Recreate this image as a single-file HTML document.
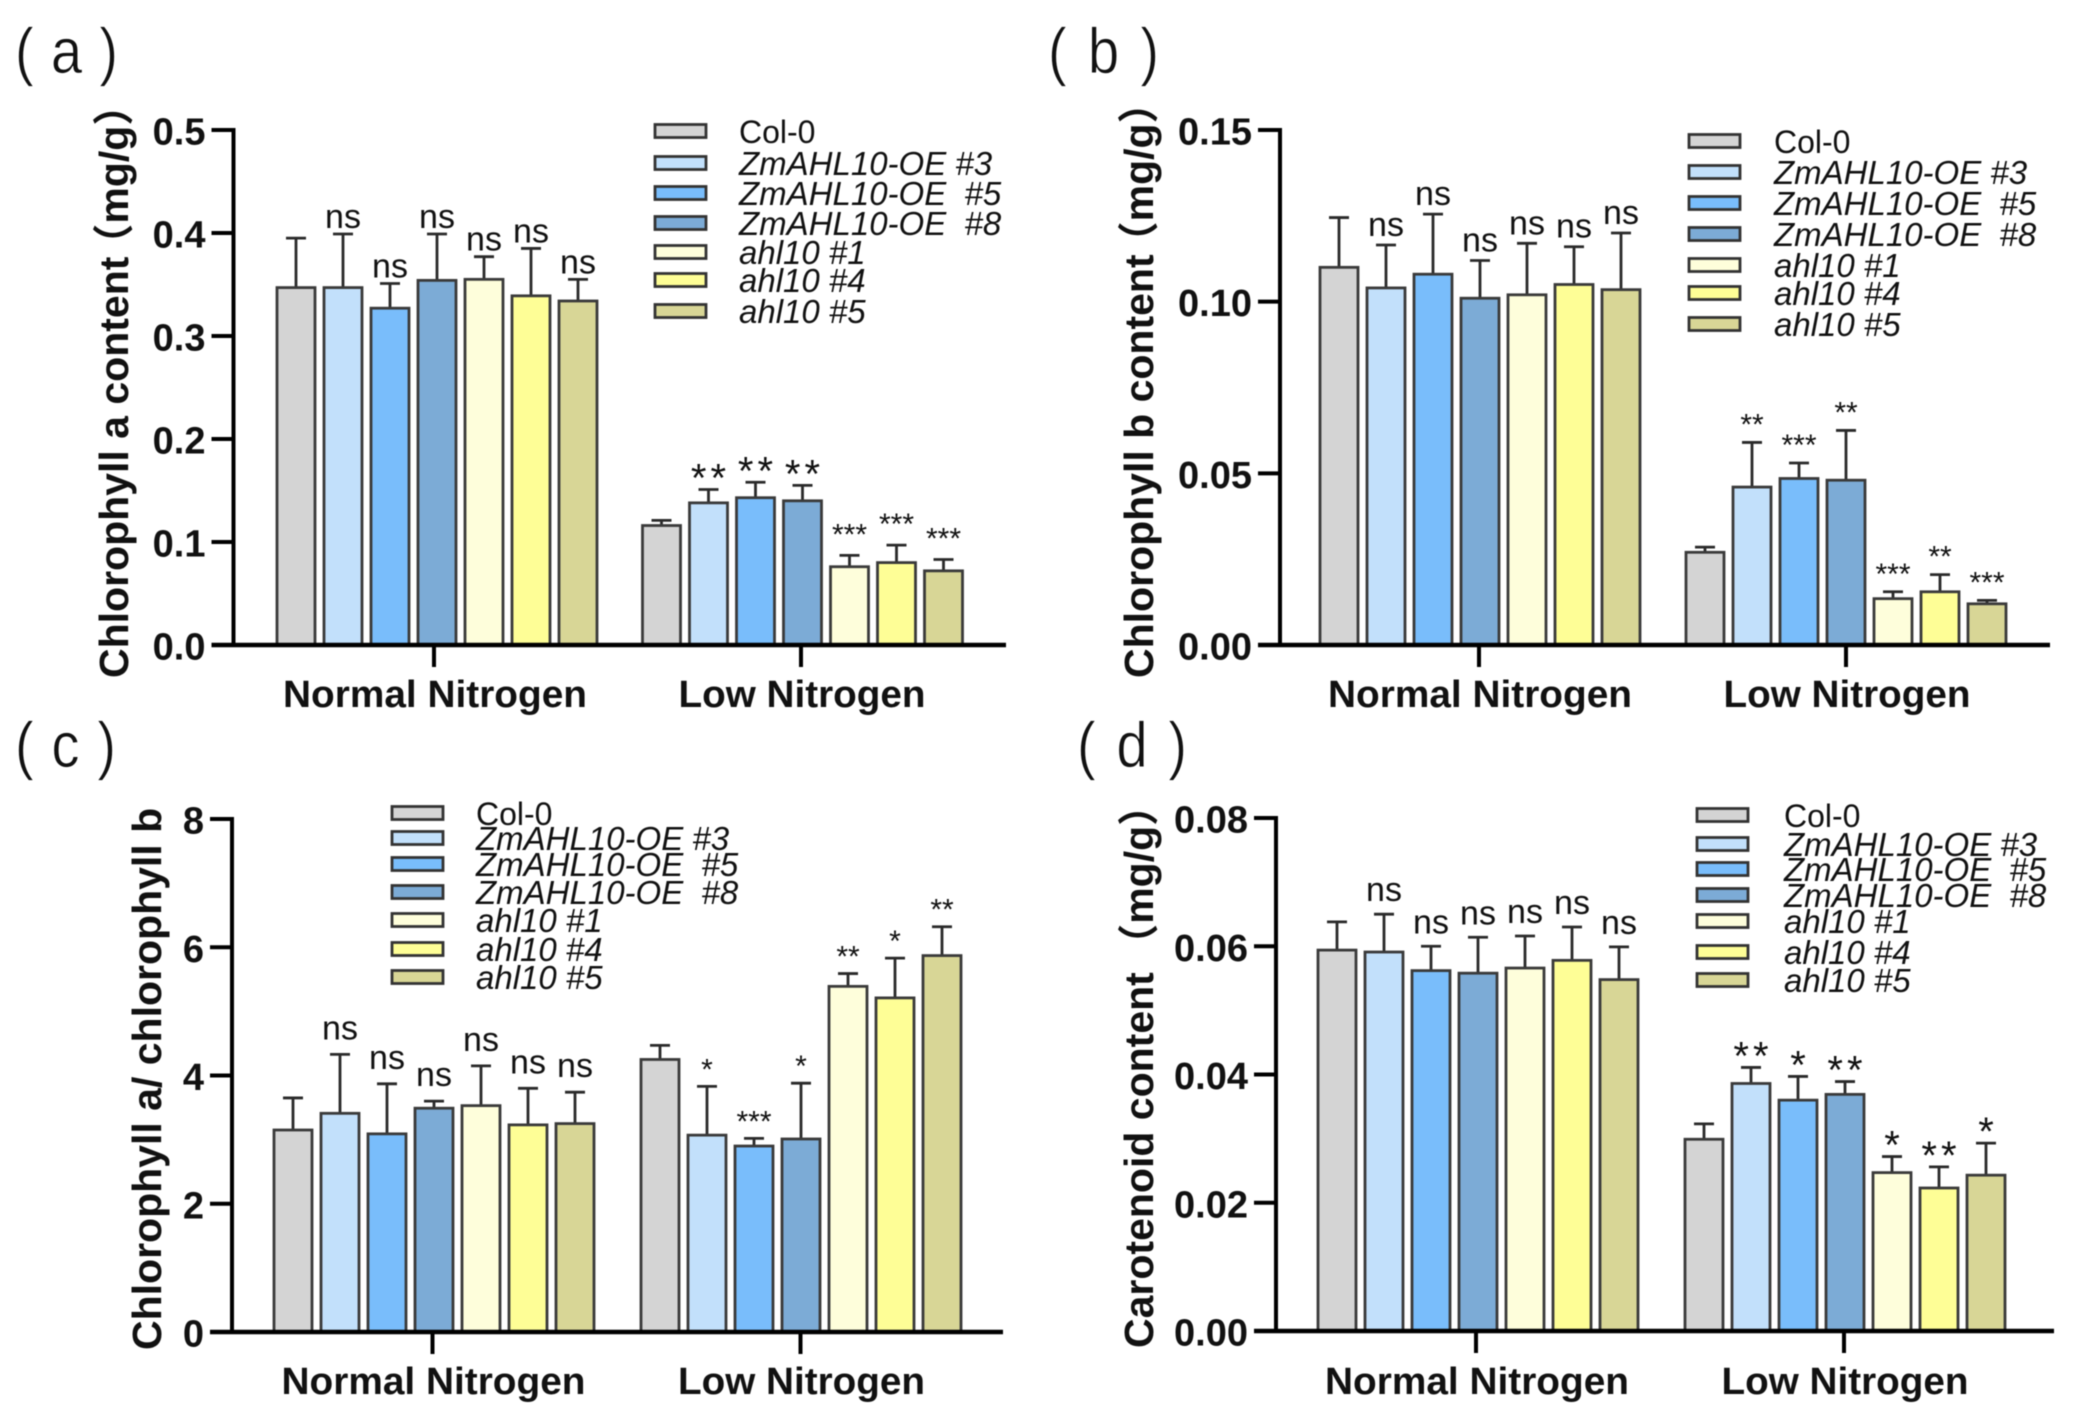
<!DOCTYPE html>
<html lang="en">
<head>
<meta charset="utf-8">
<title>Chlorophyll and carotenoid content</title>
<style>
html,body{margin:0;padding:0;background:#fff;}
svg{display:block;filter:blur(0.4px);}
text{font-family:"Liberation Sans","Noto Sans CJK SC",sans-serif;fill:#111;}
</style>
</head>
<body>
<svg id="figure" xmlns="http://www.w3.org/2000/svg" width="2073" height="1419" viewBox="0 0 2073 1419"></svg>
<script>
const seriesNames = ["Col-0","ZmAHL10-OE #3","ZmAHL10-OE  #5","ZmAHL10-OE  #8","ahl10 #1","ahl10 #4","ahl10 #5"];
const seriesColors = ["#d4d4d4","#c2e0fb","#79bdfb","#7cabd6","#fefedb","#fefe96","#d8d696"];
const categories = ["Normal Nitrogen","Low Nitrogen"];

const aTicks = ["0.0","0.1","0.2","0.3","0.4","0.5"];
const aNormal = [0.347,0.347,0.327,0.354,0.355,0.339,0.334];
const aNormalErrTop = [0.395,0.399,0.351,0.399,0.377,0.385,0.355];
const aNormalSig = ["","ns","ns","ns","ns","ns","ns"];
const aLow = [0.116,0.138,0.143,0.140,0.076,0.080,0.072];
const aLowErrTop = [0.121,0.151,0.158,0.155,0.087,0.097,0.083];
const aLowSig = ["","**","**","**","***","***","***"];

const bTicks = ["0.00","0.05","0.10","0.15"];
const bNormal = [0.110,0.104,0.108,0.101,0.102,0.105,0.1035];
const bNormalErrTop = [0.1245,0.1165,0.1255,0.112,0.117,0.116,0.120];
const bNormalSig = ["","ns","ns","ns","ns","ns","ns"];
const bLow = [0.027,0.046,0.0485,0.048,0.0135,0.0155,0.012];
const bLowErrTop = [0.0285,0.059,0.053,0.0625,0.0155,0.0205,0.013];
const bLowSig = ["","**","***","**","***","**","***"];

const cTicks = ["0","2","4","6","8"];
const cNormal = [3.15,3.41,3.09,3.49,3.53,3.23,3.25];
const cNormalErrTop = [3.65,4.33,3.87,3.60,4.15,3.80,3.74];
const cNormalSig = ["","ns","ns","ns","ns","ns","ns"];
const cLow = [4.25,3.07,2.90,3.01,5.39,5.21,5.87];
const cLowErrTop = [4.47,3.83,3.02,3.88,5.59,5.83,6.32];
const cLowSig = ["","*","***","*","**","*","**"];

const dTicks = ["0.00","0.02","0.04","0.06","0.08"];
const dNormal = [0.0594,0.0591,0.0562,0.0558,0.0566,0.0578,0.0548];
const dNormalErrTop = [0.0638,0.065,0.06,0.0614,0.0616,0.063,0.0599];
const dNormalSig = ["","ns","ns","ns","ns","ns","ns"];
const dLow = [0.0299,0.0386,0.036,0.0369,0.0247,0.0223,0.0243];
const dLowErrTop = [0.0323,0.0411,0.0397,0.0389,0.0272,0.0256,0.0293];
const dLowSig = ["","**","*","**","*","**","*"];

const panels = [
  {id:"a",label:"( a )",labelX:15,labelY:73,labelLen:103,
   title:"Chlorophyll a content",unit:"（mg/g）",unitShift:-8,titleX:128,titleStart:678,
   ticks:aTicks,normal:aNormal,normalErr:aNormalErrTop,normalSig:aNormalSig,low:aLow,lowErr:aLowErrTop,lowSig:aLowSig,
   axisX:233.5,y0:645,yTop:130,xEnd:1006,start1:277,start2:642.5,pitch:47,tick1:434,tick2:801,catY:707,
   legSwatch:655,legText:739,legY:[131,163,193,223,252,280,311],bigStars:true,nsGap:6,starLift:9},
  {id:"b",label:"( b )",labelX:1048,labelY:73,labelLen:111,
   title:"Chlorophyll b content",unit:"（mg/g）",unitShift:-8,titleX:1153,titleStart:678,
   ticks:bTicks,normal:bNormal,normalErr:bNormalErrTop,normalSig:bNormalSig,low:bLow,lowErr:bLowErrTop,lowSig:bLowSig,
   axisX:1280,y0:645,yTop:130,xEnd:2050,start1:1320,start2:1686,pitch:47,tick1:1479,tick2:1846,catY:707,
   legSwatch:1689,legText:1774,legY:[141,172,203,234,265,293,324],bigStars:false,nsGap:9,starLift:6},
  {id:"c",label:"( c )",labelX:15,labelY:767,labelLen:101,
   title:"Chlorophyll a/ chlorophyll b",unit:"",unitShift:0,titleX:161,titleStart:1350,
   ticks:cTicks,normal:cNormal,normalErr:cNormalErrTop,normalSig:cNormalSig,low:cLow,lowErr:cLowErrTop,lowSig:cLowSig,
   axisX:232,y0:1332,yTop:819,xEnd:1003,start1:274,start2:641,pitch:47,tick1:432.5,tick2:800.5,catY:1394,
   legSwatch:392,legText:476,legY:[813,838,864,892,920,949,977],bigStars:false,nsGap:15,starLift:5},
  {id:"d",label:"( d )",labelX:1077,labelY:767,labelLen:110,
   title:"Carotenoid content ",unit:"（mg/g）",unitShift:-4,titleX:1153,titleStart:1348,
   ticks:dTicks,normal:dNormal,normalErr:dNormalErrTop,normalSig:dNormalSig,low:dLow,lowErr:dLowErrTop,lowSig:dLowSig,
   axisX:1276,y0:1331,yTop:818,xEnd:2054,start1:1318,start2:1685,pitch:47,tick1:1476,tick2:1844,catY:1394,
   legSwatch:1697,legText:1784,legY:[815,844,869,895,921,952,980],bigStars:true,nsGap:13,starLift:2}
];

const SVGNS = "http://www.w3.org/2000/svg";
const root = document.getElementById("figure");

function mk(parent, tag, attrs, txt) {
  const el = document.createElementNS(SVGNS, tag);
  for (const k in attrs) el.setAttribute(k, attrs[k]);
  if (txt !== undefined) el.textContent = txt;
  parent.appendChild(el);
  return el;
}

function drawGroup(g, p, scale, values, errTops, sigs, start) {
  const barW = 38;
  values.forEach(function (v, i) {
    const x = start + i * p.pitch;
    const cx = x + barW / 2;
    const top = scale(errTops[i]);

    const err = mk(g, "path", {d:"M" + cx + " " + scale(v) + "V" + top + "M" + (cx - 10) + " " + top + "H" + (cx + 10), fill:"none", stroke:"#2a2a2a", "stroke-width":2.8});
    
    

    const bar = mk(g, "rect", {x:x, y:scale(v), width:barW, height:p.y0 - scale(v), fill:seriesColors[i], stroke:"#3a3a3a", "stroke-width":2.8});
    
    

    if (sigs[i]) {
      const isNs = sigs[i] === "ns";
      const big = !isNs && p.bigStars && sigs[i].length <= 2;
      const gap = big && sigs[i].length === 2 ? 4 : 0;
      const size = isNs ? 34 : (big ? 40 : 30);
      const baseY = isNs ? top - p.nsGap : (big ? top + 2 : top - 2 - p.starLift);
      const sig = mk(g, "text", {x:cx + gap / 2, y:baseY, "text-anchor":"middle", "font-size":size, "letter-spacing":gap}, sigs[i]);
      
      
    }
  });
}

panels.forEach(function (p) {
  const g = mk(root, "g", {});
  
  

  const maxVal = parseFloat(p.ticks[p.ticks.length - 1]);
  const scale = function (v) { return p.y0 - (v / maxVal) * (p.y0 - p.yTop); };

  const panelLabel = mk(g, "text", {transform:"translate(" + p.labelX + "," + p.labelY + ") scale(0.88,1)", "font-size":64, textLength:p.labelLen / 0.88, lengthAdjust:"spacing", stroke:"#fff", "stroke-width":0.8}, p.label);
  
  

  drawGroup(g, p, scale, p.normal, p.normalErr, p.normalSig, p.start1);
  drawGroup(g, p, scale, p.low, p.lowErr, p.lowSig, p.start2);

  const yAxis = mk(g, "line", {x1:p.axisX, x2:p.axisX, y1:p.yTop - 2, y2:p.y0 + 2, stroke:"#000", "stroke-width":4});
  
  

  const xAxis = mk(g, "line", {x1:p.axisX - 22, x2:p.xEnd, y1:p.y0, y2:p.y0, stroke:"#000", "stroke-width":4.5});
  
  

  p.ticks.forEach(function (t) {
    const ty = scale(parseFloat(t));
    const tick = mk(g, "line", {x1:p.axisX - 22, x2:p.axisX, y1:ty, y2:ty, stroke:"#000", "stroke-width":4});
    
    

    const tl = mk(g, "text", {x:p.axisX - 28, y:ty + 14.5, "text-anchor":"end", "font-size":38, "font-weight":"bold"}, t);
    
    
  });

  [p.tick1, p.tick2].forEach(function (tx, i) {
    const tick = mk(g, "line", {x1:tx, x2:tx, y1:p.y0, y2:p.y0 + 22, stroke:"#000", "stroke-width":4});
    
    

    const cat = mk(g, "text", {x:tx + 1, y:p.catY, "text-anchor":"middle", "font-size":38, "font-weight":"bold", textLength:i === 0 ? 304 : 247, lengthAdjust:"spacingAndGlyphs"}, categories[i]);
    
    
  });

  const title = mk(g, "text", {transform:"translate(" + p.titleX + "," + p.titleStart + ") rotate(-90)", "text-anchor":"start", "font-size":41, "font-weight":"bold"}, p.title);
  title.style.whiteSpace = "pre";
  
  
  if (p.unit) {
    const unit = mk(title, "tspan", {dx:p.unitShift}, p.unit);
    
    
  }

  seriesNames.forEach(function (name, i) {
    const ly = p.legY[i];
    const sw = mk(g, "rect", {x:p.legSwatch, y:ly - 6.5, width:51, height:13, fill:seriesColors[i], stroke:"#333", "stroke-width":2.8});
    
    

    const lt = mk(g, "text", {x:p.legText, y:ly + 12, "font-size":i === 0 ? 32 : 33, "font-style":i === 0 ? "normal" : "italic"}, name);
    lt.style.whiteSpace = "pre";
    
    
  });
});
</script>
</body>
</html>
